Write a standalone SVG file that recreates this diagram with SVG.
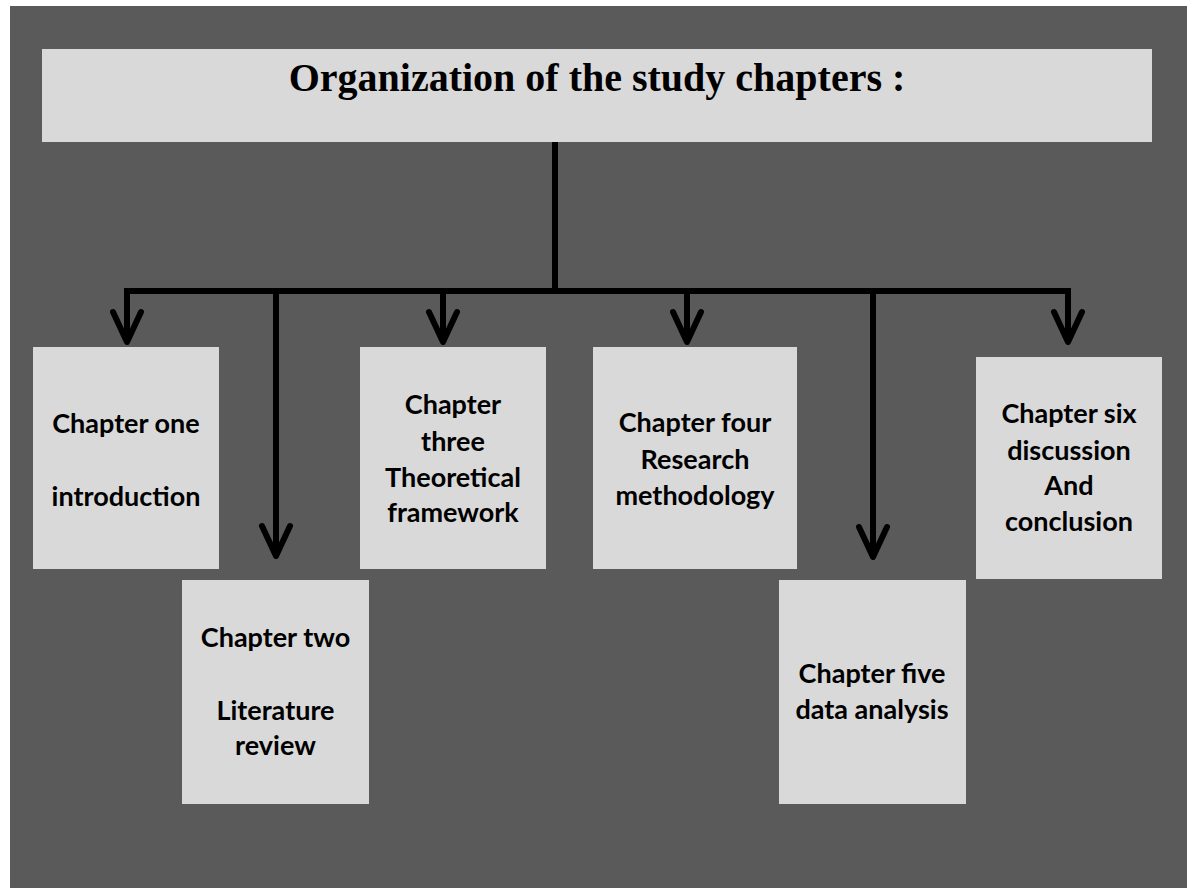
<svg xmlns="http://www.w3.org/2000/svg" width="1187" height="888" viewBox="0 0 1187 888">
  <style>
    .box { fill: #d9d9d9; }
    .title { font-family: "Liberation Serif", "Times New Roman", serif; font-weight: bold; font-size: 40px; fill: #000; text-anchor: middle; }
    .label { font-family: Lato, "Liberation Sans", sans-serif; font-weight: bold; font-size: 27px; fill: #000; text-anchor: middle; }
    .wire { fill: none; stroke: #000; stroke-width: 6; }
    .branch { fill: none; stroke: #000; stroke-width: 6; marker-end: url(#chevron); }
  </style>
  <defs>
    <marker id="chevron" markerUnits="userSpaceOnUse" viewBox="-36 -22 44 44" markerWidth="44" markerHeight="44" refX="0" refY="0" orient="auto">
      <path d="M -30 -14 L 0 0 L -30 14" fill="none" stroke="#000" stroke-width="6" stroke-linejoin="round" stroke-linecap="round"/>
    </marker>
  </defs>

  <!-- page -->
  <rect x="0" y="0" width="1187" height="888" fill="#ffffff"/>
  <rect x="10" y="6" width="1177" height="882" fill="#5a5a5a"/>

  <!-- connectors -->
  <g id="connectors">
    <path class="wire" d="M555 142 V291"/>
    <path class="wire" d="M127 291 H1068" stroke-linecap="square"/>
    <path class="branch" d="M127 291 V342"/>
    <path class="branch" d="M276 291 V556"/>
    <path class="branch" d="M443 291 V342"/>
    <path class="branch" d="M687 291 V342"/>
    <path class="branch" d="M873 291 V557"/>
    <path class="branch" d="M1068 291 V342"/>
  </g>

  <g id="title">
    <rect class="box" x="42" y="49" width="1110" height="93"/>
    <text class="title" x="597" y="91">Organization of the study chapters :</text>
  </g>

  <g id="chapter-one">
    <rect class="box" x="33" y="347" width="186" height="222"/>
    <text class="label" x="126" y="433">Chapter one</text>
    <text class="label" x="126" y="506">introduction</text>
  </g>

  <g id="chapter-two">
    <rect class="box" x="182" y="580" width="187" height="224"/>
    <text class="label" x="275.5" y="647">Chapter two</text>
    <text class="label" x="275.5" y="720">Literature</text>
    <text class="label" x="275.5" y="755">review</text>
  </g>

  <g id="chapter-three">
    <rect class="box" x="360" y="347" width="186" height="222"/>
    <text class="label" x="453" y="414">Chapter</text>
    <text class="label" x="453" y="451">three</text>
    <text class="label" x="453" y="487">Theoretical</text>
    <text class="label" x="453" y="522">framework</text>
  </g>

  <g id="chapter-four">
    <rect class="box" x="593" y="347" width="204" height="222"/>
    <text class="label" x="695" y="432">Chapter four</text>
    <text class="label" x="695" y="469">Research</text>
    <text class="label" x="695" y="505">methodology</text>
  </g>

  <g id="chapter-five">
    <rect class="box" x="779" y="580" width="187" height="224"/>
    <text class="label" x="872" y="683">Chapter five</text>
    <text class="label" x="872" y="719">data analysis</text>
  </g>

  <g id="chapter-six">
    <rect class="box" x="976" y="357" width="186" height="222"/>
    <text class="label" x="1069" y="423">Chapter six</text>
    <text class="label" x="1069" y="460">discussion</text>
    <text class="label" x="1069" y="495">And</text>
    <text class="label" x="1069" y="531">conclusion</text>
  </g>
</svg>
